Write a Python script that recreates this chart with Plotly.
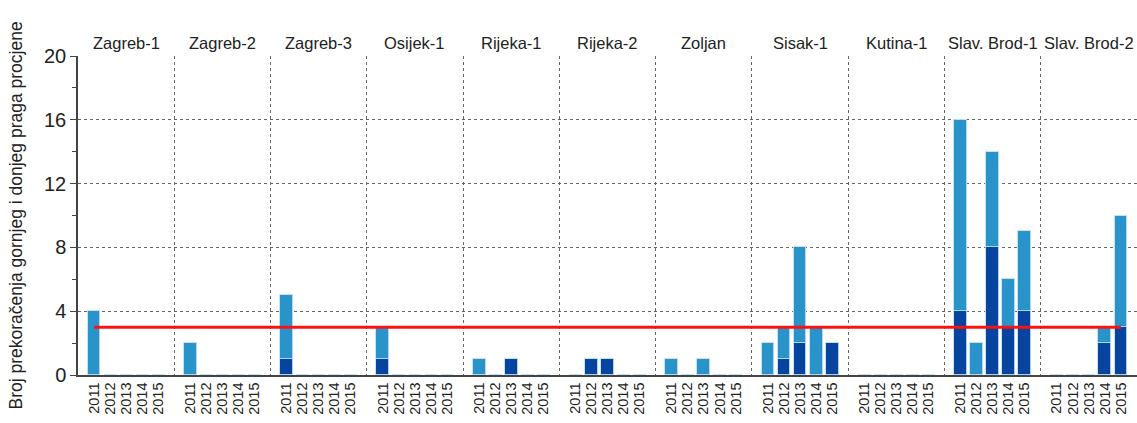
import plotly.graph_objects as go

stations = ["Zagreb-1", "Zagreb-2", "Zagreb-3", "Osijek-1", "Rijeka-1", "Rijeka-2",
            "Zoljan", "Sisak-1", "Kutina-1", "Slav. Brod-1", "Slav. Brod-2"]
years = ["2011", "2012", "2013", "2014", "2015"]

# dark (lower) segment of each stacked bar, per station, per year
dark = [
    [0, 0, 0, 0, 0],
    [0, 0, 0, 0, 0],
    [1, 0, 0, 0, 0],
    [1, 0, 0, 0, 0],
    [0, 0, 1, 0, 0],
    [0, 1, 1, 0, 0],
    [0, 0, 0, 0, 0],
    [0, 1, 2, 0, 2],
    [0, 0, 0, 0, 0],
    [4, 0, 8, 3, 4],
    [0, 0, 0, 2, 3],
]
# light (upper) segment of each stacked bar
light = [
    [4, 0, 0, 0, 0],
    [2, 0, 0, 0, 0],
    [4, 0, 0, 0, 0],
    [2, 0, 0, 0, 0],
    [1, 0, 0, 0, 0],
    [0, 0, 0, 0, 0],
    [1, 0, 1, 0, 0],
    [2, 2, 6, 3, 0],
    [0, 0, 0, 0, 0],
    [12, 2, 6, 3, 5],
    [0, 0, 0, 1, 7],
]
threshold = 3

slots = len(years) + 1
xs, xlab, yd, yl = [], [], [], []
for g, st in enumerate(stations):
    for i, yr in enumerate(years):
        xs.append(g * slots + i + 1)
        xlab.append(yr)
        yd.append(dark[g][i])
        yl.append(light[g][i])

light_col = "#2A93CA"
dark_col = "#0744A0"
edge = "rgba(190,225,245,0.9)"
font = "Liberation Sans, Arial, sans-serif"

W, H = 1137, 423
L, T, B, R = 78, 56, 48, 0
plot_w = W - L - R

fig = go.Figure()
fig.add_trace(go.Bar(x=xs, y=yd, width=0.8, marker=dict(color=dark_col, line=dict(color=edge, width=1)),
                     showlegend=False, hoverinfo="y"))
fig.add_trace(go.Bar(x=xs, y=yl, width=0.8, marker=dict(color=light_col, line=dict(color=edge, width=1)),
                     showlegend=False, hoverinfo="y"))
fig.add_trace(go.Scatter(x=[xs[0], xs[-1]], y=[threshold, threshold], mode="lines",
                         line=dict(color="#FF1010", width=3), showlegend=False, hoverinfo="skip"))

ann = []
for g, st in enumerate(stations):
    ann.append(dict(x=g * slots + slots / 2, y=1, xref="x", yref="paper", text=st,
                    showarrow=False, yanchor="bottom", yshift=2,
                    font=dict(size=16.5, color="#222", family=font)))
ann.append(dict(x=-(78 - 15) / plot_w, y=0.5, xref="paper", yref="paper",
                text="Broj prekoračenja gornjeg i donjeg praga procjene",
                textangle=-90, showarrow=False, xanchor="center", yanchor="middle",
                font=dict(size=17.5, color="#222", family=font)))

fig.update_layout(
    width=W, height=H,
    margin=dict(l=L, r=R, t=T, b=B, autoexpand=False),
    barmode="stack", bargap=0,
    plot_bgcolor="white", paper_bgcolor="white",
    font=dict(family=font, color="#222"),
    annotations=ann,
    xaxis=dict(range=[0, len(stations) * slots], tickmode="array", tickvals=xs, ticktext=xlab,
               tickangle=-90, tickfont=dict(size=14.5, color="#222"), showgrid=False,
               showline=True, linecolor="#444", linewidth=1.5, ticks="", zeroline=False,
               minor=dict(tick0=0, dtick=slots, showgrid=True, gridcolor="#666",
                          griddash="dot", gridwidth=1, ticks=""),
               automargin=False),
    yaxis=dict(range=[0, 20], dtick=4, tick0=0, showgrid=True, gridcolor="#666",
               griddash="dot", gridwidth=1, showline=True, linecolor="#444", linewidth=1.5,
               ticks="outside", ticklen=6, tickcolor="#444", tickfont=dict(size=20, color="#222"),
               zeroline=False, automargin=False,
               minor=dict(dtick=2, ticks="outside", ticklen=4, tickcolor="#444", showgrid=False)),
)

fig.write_html("out.html", config={"displayModeBar": False},
               post_script="document.body.style.margin='0';document.body.style.overflow='hidden';")
